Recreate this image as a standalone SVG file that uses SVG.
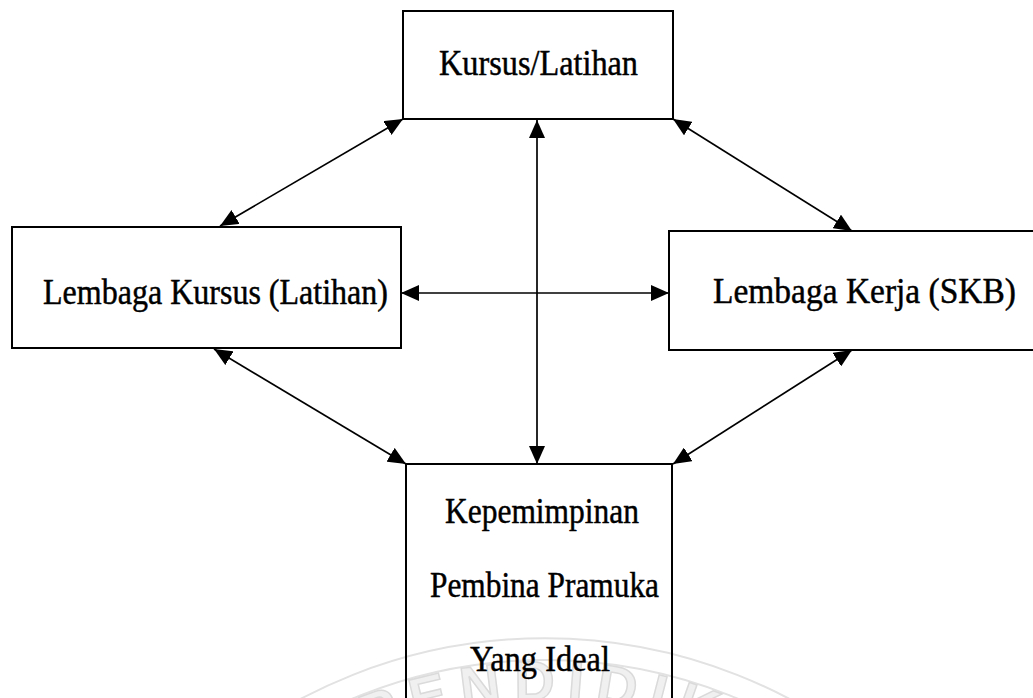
<svg xmlns="http://www.w3.org/2000/svg" width="1033" height="698" viewBox="0 0 1033 698">
  <style>
    .box { fill: none; stroke: #000; stroke-width: 2; }
    .lbl { font-family: "Liberation Serif", "Times New Roman", serif; font-size: 35px; fill: #000; stroke: #000; stroke-width: 0.45; text-anchor: start; }
    .conn { stroke: #000; stroke-width: 1.7; fill: none; marker-start: url(#ah); marker-end: url(#ah); }
    .wm { fill: none; stroke: #e2e2e2; stroke-width: 2; }
    .wmt { font-family: "Liberation Sans", Arial, sans-serif; font-weight: bold; font-size: 56px; fill: #f0f0f0; stroke: #dadada; stroke-width: 1.5; letter-spacing: 12px; }
  </style>
  <defs>
    <marker id="ah" viewBox="0 0 18 16" refX="18" refY="8" markerWidth="18" markerHeight="16" markerUnits="userSpaceOnUse" orient="auto-start-reverse">
      <path d="M0,0 L18,8 L0,16 Z" fill="#000"/>
    </marker>
    <path id="wmArc" d="M 85,1160 A 460 460 0 0 1 1005,1160"/>
  </defs>
  <rect width="1033" height="698" fill="#fff"/>

  <g id="watermark">
    <path class="wm" d="M 23,1160 A 522 522 0 0 1 1067,1160"/>
    <path class="wm" d="M 45,1160 A 500 500 0 0 1 1045,1160"/>
    <text class="wmt"><textPath href="#wmArc" startOffset="50%" text-anchor="middle">PENDIDIK</textPath></text>
  </g>

  <g id="connectors">
    <line class="conn" x1="220" y1="226" x2="403" y2="119"/>
    <line class="conn" x1="673" y1="119" x2="852" y2="231"/>
    <line class="conn" x1="537" y1="120" x2="537" y2="464"/>
    <line class="conn" x1="401" y1="293" x2="669" y2="293"/>
    <line class="conn" x1="214" y1="349" x2="406" y2="464"/>
    <line class="conn" x1="852" y1="350" x2="673" y2="464"/>
  </g>

  <g id="node-kursus">
    <rect class="box" x="403" y="11" width="270" height="108"/>
    <text class="lbl" x="439" y="75" textLength="199" lengthAdjust="spacingAndGlyphs">Kursus/Latihan</text>
  </g>

  <g id="node-lembaga-kursus">
    <rect class="box" x="12" y="227" width="389" height="121"/>
    <text class="lbl" x="43" y="304" textLength="345" lengthAdjust="spacingAndGlyphs">Lembaga Kursus (Latihan)</text>
  </g>

  <g id="node-lembaga-kerja">
    <path class="box" d="M1033,231 H669 V350 H1033"/>
    <text class="lbl" x="713" y="303" textLength="303" lengthAdjust="spacingAndGlyphs">Lembaga Kerja (SKB)</text>
  </g>

  <g id="node-kepemimpinan">
    <path class="box" d="M406,698 V464 H672 V698"/>
    <text class="lbl" x="445" y="523" textLength="194" lengthAdjust="spacingAndGlyphs">Kepemimpinan</text>
    <text class="lbl" x="430" y="597" textLength="229" lengthAdjust="spacingAndGlyphs">Pembina Pramuka</text>
    <text class="lbl" x="470" y="671" textLength="140" lengthAdjust="spacingAndGlyphs">Yang Ideal</text>
  </g>
</svg>
